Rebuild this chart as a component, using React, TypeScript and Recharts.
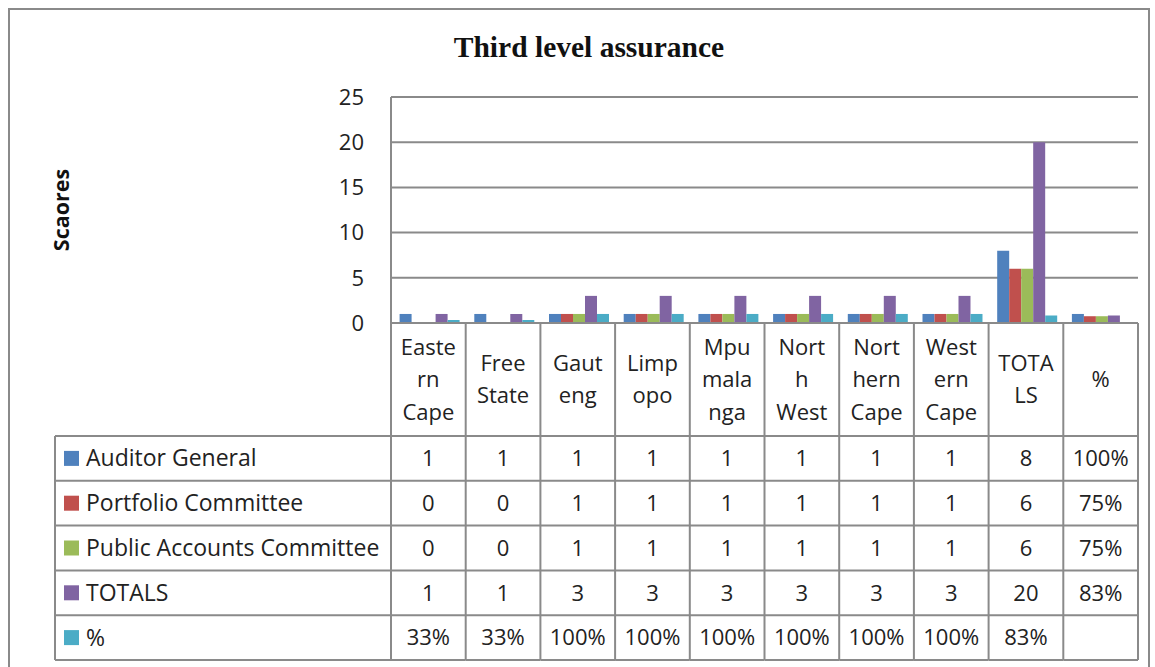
import { BarChart, Bar, XAxis, YAxis, CartesianGrid } from 'recharts';

const categories = ['Eastern Cape', 'Free State', 'Gauteng', 'Limpopo', 'Mpumalanga', 'North West', 'Northern Cape', 'Western Cape', 'TOTALS', '%'];
// wrapped the way the table header shows them
const categoryLines = [
  ['Easte', 'rn', 'Cape'],
  ['Free', 'State'],
  ['Gaut', 'eng'],
  ['Limp', 'opo'],
  ['Mpu', 'mala', 'nga'],
  ['Nort', 'h', 'West'],
  ['Nort', 'hern', 'Cape'],
  ['West', 'ern', 'Cape'],
  ['TOTA', 'LS'],
  ['%'],
];
const seriesNames = ['Auditor General', 'Portfolio Committee', 'Public Accounts Committee', 'TOTALS', '%'];
const auditorGeneral = [1, 1, 1, 1, 1, 1, 1, 1, 8, 1];
const portfolioCommittee = [0, 0, 1, 1, 1, 1, 1, 1, 6, 0.75];
const publicAccounts = [0, 0, 1, 1, 1, 1, 1, 1, 6, 0.75];
const totals = [1, 1, 3, 3, 3, 3, 3, 3, 20, 0.83];
const percent = [0.33, 0.33, 1, 1, 1, 1, 1, 1, 0.83, null];
const yTicks = [0, 5, 10, 15, 20, 25];

const seriesKeys = ['ag', 'pc', 'pac', 'tot', 'pct'];
const seriesValues = [auditorGeneral, portfolioCommittee, publicAccounts, totals, percent];
const colors = ['#4F81BD', '#C0504D', '#9BBB59', '#8064A2', '#4BACC6'];

const data = categories.map((name, i) => {
  const row: any = { name };
  seriesKeys.forEach((k, s) => { row[k] = seriesValues[s][i]; });
  return row;
});

const W = 1155;
const H = 667;
const PLOT_LEFT = 391;
const PLOT_RIGHT = 1138;
const PLOT_TOP = 97;
const PLOT_BOTTOM = 323;
const BW = (PLOT_RIGHT - PLOT_LEFT) / categories.length;
const HEADER_H = 113;
const ROW_H = 44.8;
const LINE_H = 32.5;
const TABLE_LEFT = 55;
const GRAY = '#8a8a8a';
const FONT = '"Open Sans", sans-serif';
const FS = 23;

function fmt(v: number | null, s: number, c: number) {
  if (v == null) return '';
  if (c === categories.length - 1 || s === 4) return Math.round(v * 100) + '%';
  return String(v);
}

function TableTick(props: any) {
  const { x, y, payload } = props;
  const i = payload.index;
  const left = x - BW / 2;
  const right = x + BW / 2;
  const lines = categoryLines[i];
  const mid = y + HEADER_H / 2;
  const first = mid - ((lines.length - 1) * LINE_H) / 2;
  const tableBottom = y + HEADER_H + ROW_H * seriesNames.length;
  return (
    <g>
      <line x1={left} x2={left} y1={y} y2={tableBottom} stroke={GRAY} strokeWidth={2} />
      {i === categories.length - 1 && (
        <line x1={right} x2={right} y1={y} y2={tableBottom} stroke={GRAY} strokeWidth={2} />
      )}
      {lines.map((t, k) => (
        <text key={k} x={x} y={first + k * LINE_H} dy="0.35em" textAnchor="middle"
          fontFamily={FONT} fontSize={FS - 1} fill="#222">{t}</text>
      ))}
      {seriesNames.map((_, s) => {
        const top = y + HEADER_H + s * ROW_H;
        return (
          <g key={s}>
            <line x1={left} x2={right} y1={top} y2={top} stroke={GRAY} strokeWidth={2} />
            <text x={x} y={top + ROW_H / 2} dy="0.35em" textAnchor="middle"
              fontFamily={FONT} fontSize={FS - 1} fill="#222">{fmt(seriesValues[s][i], s, i)}</text>
          </g>
        );
      })}
      <line x1={left} x2={right} y1={tableBottom} y2={tableBottom} stroke={GRAY} strokeWidth={2} />
      {i === 0 && (
        <g>
          <line x1={TABLE_LEFT} x2={TABLE_LEFT} y1={y + HEADER_H} y2={tableBottom} stroke={GRAY} strokeWidth={2} />
          {seriesNames.map((n, s) => {
            const top = y + HEADER_H + s * ROW_H;
            return (
              <g key={n}>
                <line x1={TABLE_LEFT} x2={left} y1={top} y2={top} stroke={GRAY} strokeWidth={2} />
                <rect x={64} y={top + ROW_H / 2 - 7.5} width={15} height={15} fill={colors[s]} />
                <text x={86} y={top + ROW_H / 2} dy="0.35em" fontFamily={FONT} fontSize={FS} fill="#222">{n}</text>
              </g>
            );
          })}
          <line x1={TABLE_LEFT} x2={left} y1={tableBottom} y2={tableBottom} stroke={GRAY} strokeWidth={2} />
        </g>
      )}
    </g>
  );
}

export default function App() {
  return (
    <div style={{ position: 'absolute', left: 0, top: 0, width: W, height: H, overflow: 'hidden', background: '#fff' }}>
      <div style={{ position: 'absolute', left: 8, top: 8, width: 1138, height: 700, border: `2px solid ${GRAY}` }} />
      <div style={{ position: 'absolute', left: 0, top: 0 }}>
        <BarChart width={W} height={H} data={data}
          margin={{ top: PLOT_TOP, right: W - PLOT_RIGHT, left: 0, bottom: 0 }}
          barCategoryGap="11.5%" barGap={0}>
          <text x={589} y={57} textAnchor="middle" fontFamily='"Liberation Serif", serif'
            fontWeight="bold" fontSize={29.5} fill="#111">Third level assurance</text>
          <CartesianGrid vertical={false} stroke={GRAY} strokeWidth={2} />
          <XAxis dataKey="name" interval={0} tickLine={false} tickSize={0} tickMargin={0}
            height={H - PLOT_BOTTOM} stroke={GRAY} strokeWidth={2} tick={<TableTick />} />
          <YAxis width={PLOT_LEFT} domain={[0, 25]} ticks={yTicks} tickLine={false} tickSize={6} tickMargin={21}
            stroke={GRAY} strokeWidth={2}
            tick={{ fontFamily: FONT, fontSize: FS - 1, fill: '#222' }}
            label={{
              content: () => (
                <text x={61} y={210} transform="rotate(-90 61 210)" textAnchor="middle" dy="0.35em"
                  fontFamily={FONT} fontWeight="bold" fontSize={21.5} fill="#111">Scaores</text>
              ),
            }} />
          {seriesKeys.map((k, s) => (
            <Bar key={k} dataKey={k} name={seriesNames[s]} fill={colors[s]} isAnimationActive={false} />
          ))}
        </BarChart>
      </div>
    </div>
  );
}
